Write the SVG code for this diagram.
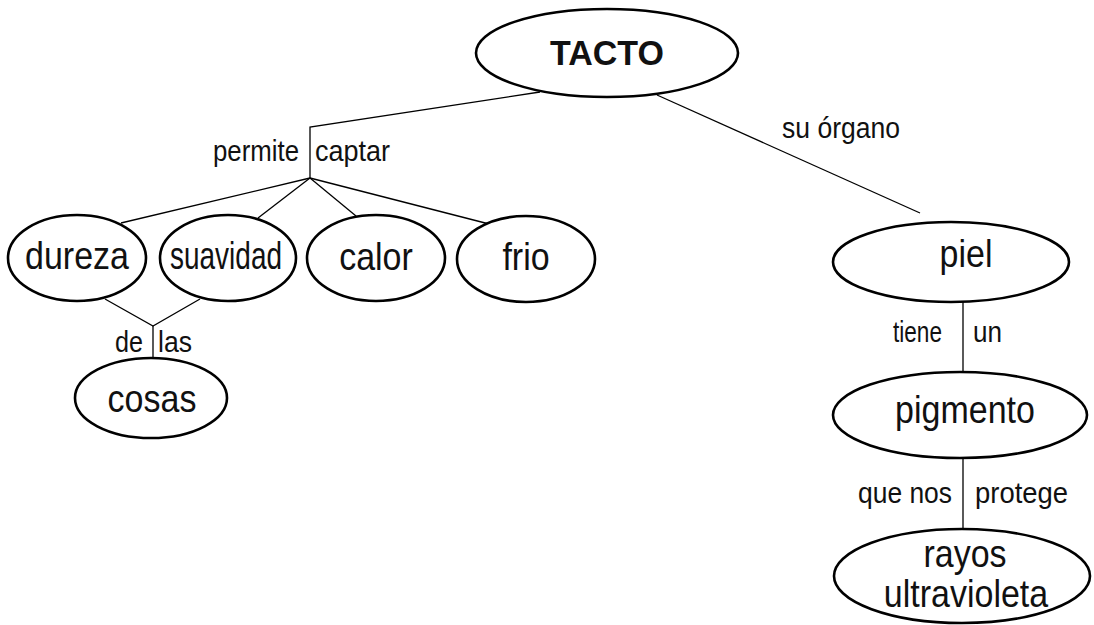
<svg xmlns="http://www.w3.org/2000/svg" width="1094" height="625" viewBox="0 0 1094 625">
<style>
.n{fill:#fff;stroke:#000;stroke-width:2.6}
.t{font-family:"Liberation Sans",Arial,sans-serif;font-size:34px;fill:#111;text-anchor:middle}
.b{font-weight:bold}
.l{font-family:"Liberation Sans",Arial,sans-serif;font-size:26px;fill:#111}
.c{fill:none;stroke:#000;stroke-width:1.3}
</style>
<rect width="1094" height="625" fill="#fff"/>
<g id="connectors">
<polyline class="c" points="540,92 310,127 310,178"/>
<line class="c" x1="310" y1="178" x2="121" y2="223"/>
<line class="c" x1="310" y1="178" x2="258" y2="218"/>
<line class="c" x1="310" y1="178" x2="356" y2="216"/>
<line class="c" x1="310" y1="178" x2="493" y2="225"/>
<line class="c" x1="657" y1="95" x2="920" y2="213"/>
<polyline class="c" points="105,299 153,326 200,299"/>
<line class="c" x1="153" y1="326" x2="153" y2="358"/>
<line class="c" x1="963" y1="302" x2="963" y2="372"/>
<line class="c" x1="963" y1="458" x2="963" y2="529"/>
<text class="l" transform="translate(213,161) scale(1,1.15)" textLength="86" lengthAdjust="spacingAndGlyphs">permite</text>
<text class="l" transform="translate(315,161) scale(1,1.15)" textLength="75" lengthAdjust="spacingAndGlyphs">captar</text>
<text class="l" transform="translate(782,138) scale(1,1.15)" textLength="118" lengthAdjust="spacingAndGlyphs">su órgano</text>
<text class="l" transform="translate(115,352) scale(1,1.15)" textLength="28" lengthAdjust="spacingAndGlyphs">de</text>
<text class="l" transform="translate(158,352) scale(1,1.15)" textLength="34" lengthAdjust="spacingAndGlyphs">las</text>
<text class="l" transform="translate(893,342) scale(1,1.15)" textLength="49" lengthAdjust="spacingAndGlyphs">tiene</text>
<text class="l" transform="translate(973,342) scale(1,1.15)" textLength="29" lengthAdjust="spacingAndGlyphs">un</text>
<text class="l" transform="translate(858,503) scale(1,1.15)" textLength="94" lengthAdjust="spacingAndGlyphs">que nos</text>
<text class="l" transform="translate(975,503) scale(1,1.15)" textLength="93" lengthAdjust="spacingAndGlyphs">protege</text>
</g>
<g id="tacto"><ellipse class="n" cx="607" cy="53" rx="131" ry="44"/><text class="t b" transform="translate(607,65) scale(1,1.02)">TACTO</text></g>
<g id="dureza"><ellipse class="n" cx="77" cy="258" rx="69" ry="43"/><text class="t" transform="translate(77,269) scale(1,1.15)">dureza</text></g>
<g id="suavidad"><ellipse class="n" cx="228" cy="258" rx="68" ry="43"/><text class="t" transform="translate(226,269) scale(1,1.15)" textLength="112" lengthAdjust="spacingAndGlyphs">suavidad</text></g>
<g id="calor"><ellipse class="n" cx="376" cy="258" rx="69" ry="43"/><text class="t" transform="translate(376,270) scale(1,1.15)">calor</text></g>
<g id="frio"><ellipse class="n" cx="526" cy="259" rx="69" ry="43"/><text class="t" transform="translate(526,270) scale(1,1.15)">frio</text></g>
<g id="cosas"><ellipse class="n" cx="151" cy="398" rx="76" ry="40"/><text class="t" transform="translate(152,412) scale(1,1.15)">cosas</text></g>
<g id="piel"><ellipse class="n" cx="951" cy="262" rx="118" ry="40"/><text class="t" transform="translate(966,267) scale(1,1.15)">piel</text></g>
<g id="pigmento"><ellipse class="n" cx="960" cy="415" rx="127" ry="43"/><text class="t" transform="translate(965,423) scale(1,1.15)">pigmento</text></g>
<g id="rayos"><ellipse class="n" cx="962" cy="576" rx="128" ry="47"/><text class="t" transform="translate(965,567) scale(1,1.15)">rayos</text><text class="t" transform="translate(966,607) scale(1,1.15)">ultravioleta</text></g>
</svg>
